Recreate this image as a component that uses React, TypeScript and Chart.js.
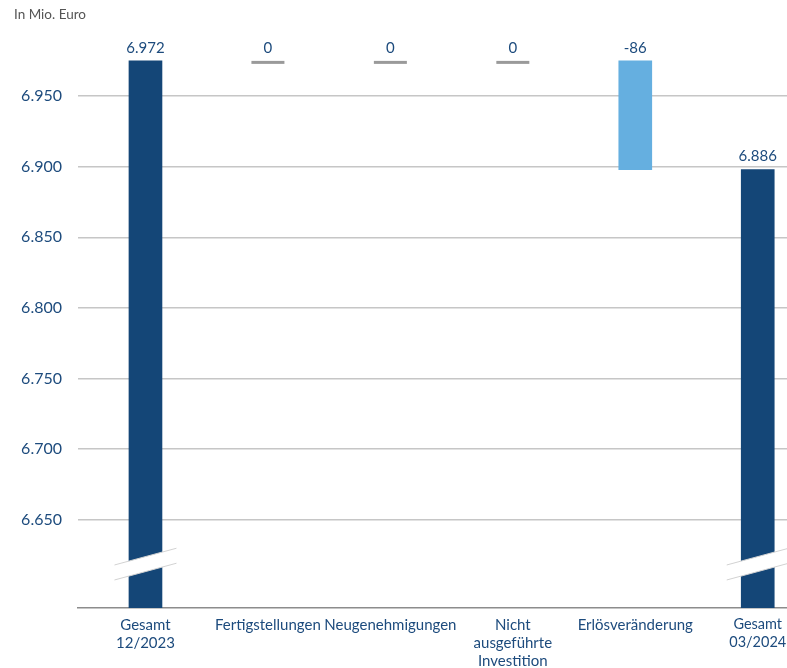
import React, { useEffect, useRef } from "react";
import { Chart, registerables } from "chart.js";

Chart.register(...registerables);

// ---- data ----
const categories: string[][] = [
  ["Gesamt", "12/2023"],
  ["Fertigstellungen"],
  ["Neugenehmigungen"],
  ["Nicht", "ausgeführte", "Investition"],
  ["Erlösveränderung"],
  ["Gesamt", "03/2024"],
];
const startTotal = 6.975; // as drawn
const changes = [0, 0, 0, -0.077]; // as drawn
const endTotal = 6.898; // as drawn
const valueLabels = ["6.972", "0", "0", "0", "-86", "6.886"];
const yTicks = [6.65, 6.7, 6.75, 6.8, 6.85, 6.9, 6.95];
const yMin = 6.5874;
const yMax = 7.0;
const xMin = -0.551;
const xMax = 5.239;
const breakValue = 6.6185;
const unitLabel = "In Mio. Euro";

// ---- styles ----
const NAVY = "#144677";
const LIGHT = "#65afe0";
const TEXT = "#1d4b7d";
const FONT = "Lato, 'Noto Sans', sans-serif";

function buildBars() {
  const data: any[] = [];
  const colors: string[] = [];
  data.push({ x: 0, y: startTotal });
  colors.push(NAVY);
  let run = startTotal;
  changes.forEach((c, i) => {
    const next = run + c;
    data.push({ x: i + 1, y: [next, run] });
    colors.push(c < 0 ? LIGHT : c > 0 ? NAVY : "rgba(0,0,0,0)");
    run = next;
  });
  data.push({ x: changes.length + 1, y: endTotal });
  colors.push(NAVY);
  return { data, colors };
}

const decorPlugin = {
  id: "decor",
  afterDatasetsDraw(chart: any) {
    const ctx = chart.ctx;
    const meta = chart.getDatasetMeta(0);
    const yScale = chart.scales.y;
    const last = meta.data.length - 1;
    ctx.save();
    // break marks on total bars
    [0, last].forEach((i) => {
      const el = meta.data[i];
      const cx = el.x;
      const yc = yScale.getPixelForValue(breakValue);
      const dx = 31;
      const s = 0.27;
      const h = 7.5;
      const yl = yc + dx * s;
      const yr = yc - dx * s;
      ctx.beginPath();
      ctx.moveTo(cx - dx, yl - h);
      ctx.lineTo(cx + dx, yr - h);
      ctx.lineTo(cx + dx, yr + h);
      ctx.lineTo(cx - dx, yl + h);
      ctx.closePath();
      ctx.fillStyle = "#ffffff";
      ctx.fill();
      ctx.strokeStyle = "#d2d2d2";
      ctx.lineWidth = 1;
      ctx.beginPath();
      ctx.moveTo(cx - dx, yl - h);
      ctx.lineTo(cx + dx, yr - h);
      ctx.moveTo(cx - dx, yl + h);
      ctx.lineTo(cx + dx, yr + h);
      ctx.stroke();
    });
    // zero lines and value labels
    meta.data.forEach((el: any, i: number) => {
      const props = el.getProps(["x", "y", "base", "width"], true);
      const top = Math.min(props.y, props.base);
      if (Math.abs(props.y - props.base) < 1) {
        ctx.fillStyle = "#9a9a9a";
        ctx.fillRect(props.x - props.width / 2, props.y, props.width, 3);
      }
      ctx.fillStyle = TEXT;
      ctx.font = `15px ${FONT}`;
      ctx.textAlign = "center";
      ctx.textBaseline = "middle";
      ctx.fillText(valueLabels[i], props.x, top - 13);
    });
    ctx.restore();
  },
  afterDraw(chart: any) {
    const ctx = chart.ctx;
    ctx.save();
    ctx.fillStyle = "#555555";
    ctx.font = `13.5px ${FONT}`;
    ctx.textAlign = "left";
    ctx.textBaseline = "middle";
    ctx.fillText(unitLabel, 14, 15);
    ctx.restore();
  },
};

export default function App() {
  const ref = useRef<HTMLCanvasElement | null>(null);
  useEffect(() => {
    document.body.style.margin = "0";
    if (!ref.current) return;
    const { data, colors } = buildBars();
    Chart.defaults.font.family = FONT;
    const chart = new Chart(ref.current, {
      type: "bar",
      data: {
        datasets: [
          {
            data,
            backgroundColor: colors,
            borderWidth: 0,
            barThickness: 33,
          } as any,
        ],
      },
      options: {
        animation: false,
        responsive: true,
        maintainAspectRatio: false,
        layout: { padding: { top: 24, left: 0, right: 0, bottom: 0 } },
        plugins: {
          legend: { display: false },
          tooltip: { enabled: false },
        },
        scales: {
          x: {
            type: "linear",
            offset: false,
            min: xMin,
            max: xMax,
            grid: { display: false, drawTicks: false, offset: false },
            border: { display: true, color: "#8c8c8c", width: 1.5 },
            afterBuildTicks: (s: any) => {
              s.ticks = categories.map((_, i) => ({ value: i }));
            },
            afterFit: (s: any) => {
              s.height = 60;
              s.paddingLeft = 0;
              s.paddingRight = 0;
            },
            ticks: {
              autoSkip: false,
              maxRotation: 0,
              minRotation: 0,
              padding: 8,
              color: TEXT,
              font: (c: any) => ({
                size: c.index === categories.length - 1 ? 14.5 : 15,
                family: FONT,
              }),
              callback: (v: any) => categories[Math.round(Number(v))] ?? "",
            },
          } as any,
          y: {
            min: yMin,
            max: yMax,
            afterBuildTicks: (s: any) => {
              s.ticks = yTicks.map((v) => ({ value: v }));
            },
            afterFit: (s: any) => {
              s.width = 78;
            },
            grid: { color: "#c6c6c6", lineWidth: 1.5, drawTicks: false },
            border: { display: false },
            ticks: {
              padding: 16,
              color: TEXT,
              font: { size: 16, family: FONT },
              callback: (v: any) => Number(v).toFixed(3),
            },
          } as any,
        },
      },
      plugins: [decorPlugin],
    });
    return () => chart.destroy();
  }, []);
  return (
    <div style={{ position: "relative", width: 787, height: 668 }}>
      <canvas ref={ref} />
    </div>
  );
}
